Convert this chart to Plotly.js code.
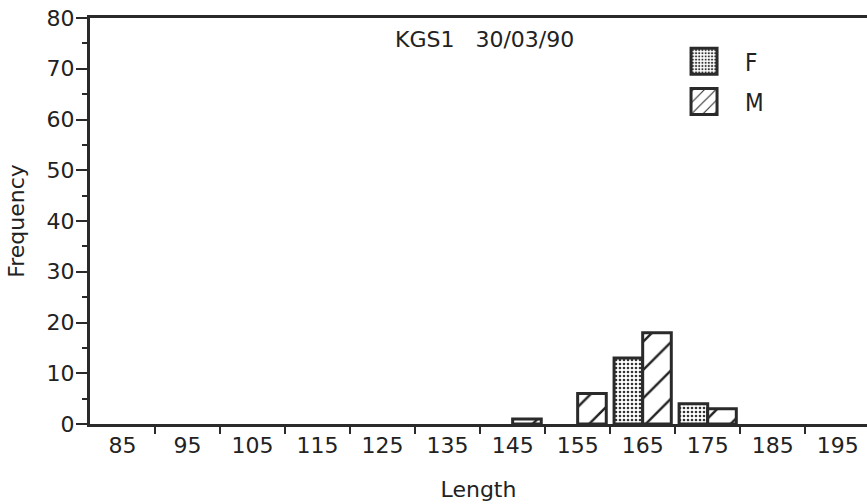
<!DOCTYPE html>
<html><head><meta charset="utf-8">
<script src="https://cdn.plot.ly/plotly-3.0.1.min.js"></script>
<style>html,body{margin:0;padding:0;overflow:hidden;background:#fff}</style>
</head><body><div id="chart" style="width:867px;height:504px"></div>
<script>
const lengths = [85, 95, 105, 115, 125, 135, 145, 155, 165, 175, 185, 195];
const femaleFreq = [0, 0, 0, 0, 0, 0, 0, 0, 13, 4, 0, 0];
const maleFreq   = [0, 0, 0, 0, 0, 0, 1, 6, 18, 3, 0, 0];
const tickLabels = ["85","95","105","115","125","135","145","155","165","175","185","195"];
const binEdges = [90, 100, 110, 120, 130, 140, 150, 160, 170, 180, 190];

const font = "DejaVu Sans, Liberation Sans, Arial, sans-serif";
const fontC = "DejaVu Sans Condensed, DejaVu Sans, sans-serif";
const ink = "#2a2a2a";
const txt = "#222";

const outline = v => v.map(d => d > 0 ? 3 : 0);

const traces = [
  {type:'bar', name:'F', legendgroup:'F', x:lengths, y:femaleFreq,
   marker:{color:'#fff', line:{color:ink, width:outline(femaleFreq)},
     pattern:{shape:'.', fgcolor:'#333', bgcolor:'#fff', size:4, solidity:0.35}}},
  {type:'bar', name:'M', legendgroup:'M', x:lengths, y:maleFreq,
   marker:{color:'#fff', line:{color:ink, width:outline(maleFreq)},
     pattern:{shape:'/', fgcolor:'#222', bgcolor:'#fff', size:20, solidity:0.12}}},
  // invisible helper trace so the overlay axis carrying the tick labels is drawn
  {type:'scatter', x:[], y:[], yaxis:'y2', showlegend:false, hoverinfo:'skip'}
];

const layout = {
  width:867, height:504,
  margin:{l:90, r:0, t:18, b:80},
  paper_bgcolor:'#fff', plot_bgcolor:'#fff',
  barmode:'group', bargap:0.12, bargroupgap:0,
  showlegend:true,
  legend:{x:0.7375, y:0.948, xanchor:'left', yanchor:'top', bgcolor:'rgba(0,0,0,0)',
    font:{family:fontC, size:24, color:txt}, tracegroupgap:6, itemwidth:72,
    traceorder:'grouped'},
  font:{family:font, color:txt},
  xaxis:{range:[80,199.5], showgrid:false, zeroline:false,
    showline:true, linecolor:ink, linewidth:3, mirror:true,
    tickmode:'array', tickvals:lengths, ticktext:tickLabels, ticks:'',
    tickfont:{family:font, size:22, color:txt},
    minor:{tickmode:'array', tickvals:binEdges, ticks:'outside', ticklen:7, tickwidth:2, tickcolor:ink, showgrid:false},
    title:{text:'Length', font:{family:font, size:22, color:txt}, standoff:25}},
  yaxis:{range:[0,80], showgrid:false, zeroline:false,
    showline:true, linecolor:ink, linewidth:3,
    tick0:0, dtick:10, ticks:'outside', ticklen:11, tickwidth:2, tickcolor:ink,
    showticklabels:false,
    minor:{dtick:5, ticks:'outside', ticklen:5, tickwidth:2, tickcolor:ink, showgrid:false},
    title:{text:'Frequency', font:{family:font, size:22, color:txt}, standoff:46}},
  yaxis2:{overlaying:'y', side:'left', anchor:'free', position:0, range:[0,80],
    showgrid:false, zeroline:false, showline:false,
    tick0:0, dtick:10, ticks:'outside', ticklen:11, tickcolor:'rgba(0,0,0,0)',
    showticklabels:true,
    tickfont:{family:font, size:22, color:txt}},
  annotations:[{text:'KGS1&nbsp;&nbsp;&nbsp;30/03/90', xref:'paper', yref:'paper',
    x:0.508, y:0.946, xanchor:'center', yanchor:'middle', showarrow:false,
    font:{family:font, size:22, color:txt}}]
};

Plotly.newPlot('chart', traces, layout, {displayModeBar:false, staticPlot:true}).then(gd => {
  gd.querySelectorAll('.legend .legendpoints path').forEach(p => {
    p.setAttribute('d', 'M13,13H-13V-13H13Z');
    p.style.stroke = ink;
    p.style.strokeWidth = '3px';
  });
});
</script></body></html>
